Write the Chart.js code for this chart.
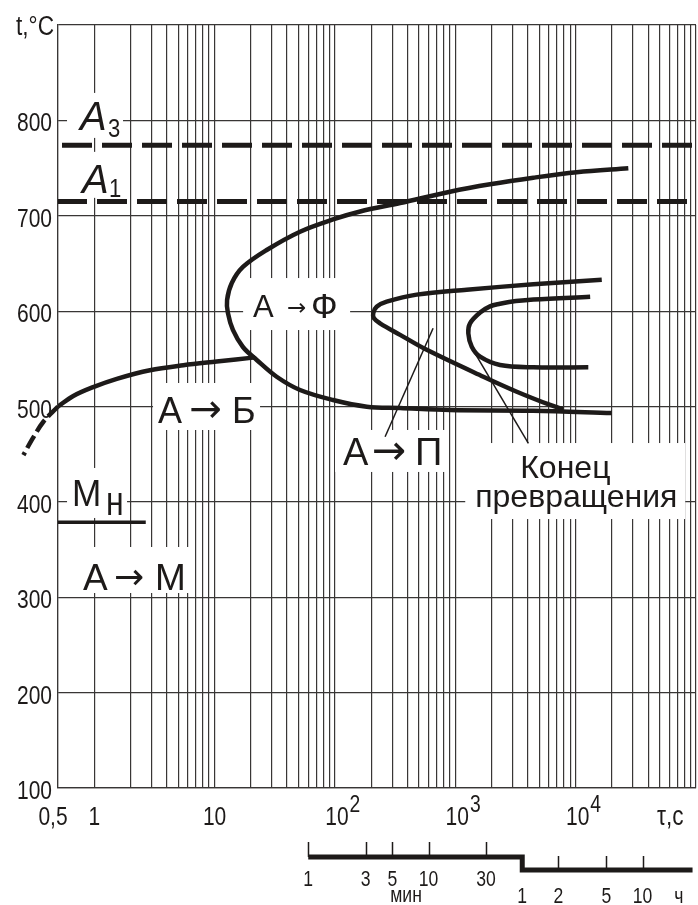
<!DOCTYPE html>
<html>
<head>
<meta charset="utf-8">
<script src="https://cdn.jsdelivr.net/npm/chart.js@4.4.1/dist/chart.umd.min.js"></script>
<style>
  html, body { margin: 0; padding: 0; background: #fff; }
  canvas { display: block; }
</style>
</head>
<body>
<canvas id="ttt" width="698" height="905"></canvas>
<script>
// curves are [time in s, temperature in °C]
const ferriteStart = [
  [27400, 749.7], [10200, 745.6], [4450, 739.9], [1944, 733], [904, 725.2], [348, 713.4],
  [162, 704.5], [96.4, 696.1], [51.3, 683.3], [27.1, 664.1], [17.2, 646.3], [13.9, 629.5],
  [12.7, 611.7], [12.9, 598.1], [14.2, 580.3], [17.2, 562.4], [22.4, 548.8], [32.8, 531.2],
  [51.3, 517.3], [96.4, 506.8], [184, 499.8], [348, 498.4], [904, 496.3], [4450, 495.6],
  [19950, 493.2]
]
const pearliteStart = [
  [16480, 633], [4450, 628.1], [1245, 622.5], [478, 617.3], [269, 609.9], [222, 604.6],
  [208, 597.7], [211, 592.5], [237, 587.2], [348, 575.1], [579, 559.4], [1711, 531.2],
  [3243, 515.5], [6140, 501.6], [7900, 497.1]
]
const pearliteEnd = [
  [13200, 615.1], [4450, 612.1], [2800, 609.6], [2354, 607.8], [1944, 605], [1607, 598.5],
  [1326, 587.2], [1283, 576.7], [1370, 562.7], [1607, 552.2], [2354, 543.5], [4450, 541.1],
  [12740, 541.1]
]
const bainiteStart = [
  [0.5, 500], [0.67, 511], [0.98, 520.3], [1.54, 529], [2.9, 538], [5.5, 543.3],
  [10.4, 547.2], [21.7, 551.5]
]
const bainiteGuess = [[0.5, 500], [0.378, 484], [0.303, 465], [0.258, 449]]
const msLine = [[0.5, 378.6], [2.68, 378.6]]
const a3Line = [[0.5, 774], [100000, 774]]
const a1Line = [[0.5, 715], [100000, 715]]
const pearliteLeader = [[261, 468.3], [654, 582]]
const endLeader = [[4050, 461.4], [1460, 555.8]]

const yTicks = [100, 200, 300, 400, 500, 600, 700, 800, 900]
const yTickText = ['100', '200', '300', '400', '500', '600', '700', '800', '']
const xTickValues = [0.5, 1, 10, 100, 1000, 10000]
const xTickText = ['0,5', '1', '10', '10', '10', '10']
const xTickPower = ['', '', '', '2', '3', '4']

// second time scale under the axis
const minuteMarks = [1, 3, 5, 10, 30]
const hourMarks = [1, 2, 5, 10]
const hourBarEnd = 26

const ink = '#1d1a19'
const gridInk = '#383635'
const sans = "'Liberation Sans', Arial, sans-serif"
const arrowFont = "'DejaVu Sans', sans-serif"

// vertical grid: 1..9 in every decade
const xGrid = [0.5]
for (let d = 1; d < 100000; d *= 10) {
  for (let k = 1; k <= 9; k++) xGrid.push(k * d)
}
xGrid.push(100000)

// region labels, anchored at [s, °C]; parts: text, dx, dy, font, x-squeeze
const notes = [
  { at: [0.762, 790], box: [-13, -37, 43, 8], parts: [
    ['A', 0, 0, 'italic 40px ' + sans, 1], ['3', 28, 7, '26px ' + sans, 0.85]] },
  { at: [0.792, 724], box: [-15, -41, 41, 5], parts: [
    ['A', 0, 0, 'italic 40px ' + sans, 1], ['1', 27, 4, '26px ' + sans, 0.85]] },
  { at: [0.654, 395.7], box: [-5, -38, 55, 12], parts: [
    ['М', 0, 0, '37px ' + sans, 0.95], ['н', 34, 9, '40px ' + sans, 0.8]] },
  { at: [0.807, 307.6], box: [-3, -43, 109, 3], parts: [
    ['А', 0, 0, '37px ' + sans, 1], ['→', 31, -1, '36px ' + arrowFont, 1], ['М', 72, 0, '37px ' + sans, 1]] },
  { at: [3.39, 482.7], box: [-5, -40, 102, 7], parts: [
    ['А', 0, 0, '36px ' + sans, 1], ['→', 31, -1, '39px ' + arrowFont, 1], ['Б', 74, 0, '36px ' + sans, 1]] },
  { at: [20.9, 593.8], box: [-10, -39, 97, 13], parts: [
    ['А', 0, 0, '31px ' + sans, 1], ['→', 34, -2, '23px ' + arrowFont, 1], ['Ф', 58, 1, '35px ' + sans, 1]] },
  { at: [116.8, 438.7], box: [-8, -35, 102, 7], parts: [
    ['А', 0, 0, '38px ' + sans, 1], ['→', 29, -1, '41px ' + arrowFont, 1], ['П', 72, 0, '38px ' + sans, 1]] },
  { at: [3464, 425], box: [-55, -35, 165, 41], parts: [
    ['Конец', 0, 0, '32px ' + sans, 1], ['превращения', -45, 29, '32px ' + sans, 1]] }
]

const toXY = arr => arr.map(p => ({ x: p[0], y: p[1] }))

function curve(data, extra) {
  return Object.assign({
    data: toXY(data),
    showLine: true,
    borderColor: ink,
    borderWidth: 4.5,
    pointRadius: 0,
    tension: 0.35,
    fill: false,
    borderJoinStyle: 'round'
  }, extra || {})
}

// Arial-narrow look: squeeze regular glyphs horizontally
function putText(ctx, s, x, y, font, sx, align) {
  ctx.save()
  ctx.font = font
  ctx.textAlign = align || 'left'
  ctx.translate(x, y)
  ctx.scale(sx, 1)
  ctx.fillText(s, 0, 0)
  ctx.restore()
}

const labelsPlugin = {
  id: 'labels',
  beforeDatasetsDraw(chart) {
    const ctx = chart.ctx, xs = chart.scales.x, ys = chart.scales.y
    ctx.save()
    ctx.fillStyle = '#fff'
    notes.forEach(n => {
      const ax = xs.getPixelForValue(n.at[0]), ay = ys.getPixelForValue(n.at[1])
      ctx.fillRect(ax + n.box[0], ay + n.box[1], n.box[2] - n.box[0], n.box[3] - n.box[1])
    })
    ctx.restore()
  },
  afterDatasetsDraw(chart) {
    const ctx = chart.ctx, xs = chart.scales.x, ys = chart.scales.y
    ctx.save()
    ctx.fillStyle = ink
    ctx.textBaseline = 'alphabetic'
    notes.forEach(n => {
      const ax = xs.getPixelForValue(n.at[0]), ay = ys.getPixelForValue(n.at[1])
      n.parts.forEach(p => putText(ctx, p[0], ax + p[1], ay + p[2], p[3], p[4]))
    })
    ctx.restore()
  },
  afterDraw(chart) {
    const ctx = chart.ctx, xs = chart.scales.x, ys = chart.scales.y
    const px = v => xs.getPixelForValue(v)
    const axisFont = '25px ' + sans
    const sq = 0.84
    ctx.save()
    ctx.fillStyle = ink
    ctx.strokeStyle = ink
    ctx.textBaseline = 'alphabetic'

    // temperature labels
    yTicks.forEach((v, i) => {
      if (yTickText[i]) putText(ctx, yTickText[i], 52, ys.getPixelForValue(v) + 11, axisFont, sq, 'right')
    })

    // axis titles
    putText(ctx, 't,°C', 16, 35, '27px ' + sans, sq)
    putText(ctx, 'τ,c', 657, 825, '27px ' + sans, sq)

    // decade labels on the time axis
    xTickValues.forEach((v, i) => {
      const x = px(v)
      if (xTickPower[i]) {
        ctx.font = axisFont
        const w = ctx.measureText(xTickText[i]).width * sq
        putText(ctx, xTickText[i], x + 2, 825, axisFont, sq, 'center')
        putText(ctx, xTickPower[i], x + 3 + w / 2, 812, '23px ' + sans, sq)
      } else {
        putText(ctx, xTickText[i], v === xs.min ? x - 5 : x, 825, axisFont, sq, 'center')
      }
    })

    // minutes / hours bar
    ctx.lineWidth = 5
    ctx.lineJoin = 'miter'
    ctx.beginPath()
    ctx.moveTo(px(60), 857)
    ctx.lineTo(px(3600), 857)
    ctx.lineTo(px(3600), 870)
    ctx.lineTo(px(hourBarEnd * 3600), 870)
    ctx.stroke()

    ctx.lineWidth = 1.5
    ctx.beginPath()
    minuteMarks.forEach(m => {
      const x = Math.round(px(m * 60)) + 0.5
      ctx.moveTo(x, 842)
      ctx.lineTo(x, 857)
    })
    hourMarks.forEach(h => {
      const x = Math.round(px(h * 3600)) + 0.5
      ctx.moveTo(x, 856)
      ctx.lineTo(x, 870)
    })
    ctx.stroke()

    const barFont = '22px ' + sans
    minuteMarks.forEach(m => putText(ctx, String(m), px(m * 60), 886, barFont, 0.8, 'center'))
    hourMarks.forEach(h => putText(ctx, String(h), px(h * 3600), 903, barFont, 0.8, 'center'))
    putText(ctx, 'мин', px(6.5 * 60), 902, barFont, 0.8, 'center')
    putText(ctx, 'ч', px(20 * 3600), 903, barFont, 0.8, 'center')
    ctx.restore()
  }
}

new Chart(document.getElementById('ttt'), {
  type: 'scatter',
  data: {
    datasets: [
      curve(ferriteStart),
      curve(pearliteStart),
      curve(pearliteEnd),
      curve(bainiteStart),
      curve(bainiteGuess, { borderDash: [14, 5], clip: false }),
      curve(msLine, { tension: 0, borderWidth: 3.5 }),
      curve(a3Line, { tension: 0, borderWidth: 5, borderDash: [30, 10], borderDashOffset: 36 }),
      curve(a1Line, { tension: 0, borderWidth: 5, borderDash: [30, 10], borderDashOffset: 1 }),
      curve(pearliteLeader, { tension: 0, borderWidth: 1.5 }),
      curve(endLeader, { tension: 0, borderWidth: 1.5 })
    ]
  },
  options: {
    responsive: false,
    animation: false,
    events: [],
    layout: { padding: { top: 25, right: 2, left: 0, bottom: 0 } },
    plugins: {
      legend: { display: false },
      tooltip: { enabled: false }
    },
    scales: {
      x: {
        type: 'logarithmic',
        min: 0.5,
        max: 100000,
        afterBuildTicks: s => { s.ticks = xGrid.map(v => ({ value: v })) },
        afterFit: s => { s.height = 117 },
        ticks: { display: false },
        grid: { color: gridInk, lineWidth: 1.2, drawTicks: false },
        border: { color: gridInk, width: 1.2 }
      },
      y: {
        min: 100,
        max: 900,
        afterBuildTicks: s => { s.ticks = yTicks.map(v => ({ value: v })) },
        afterFit: s => { s.width = 58 },
        ticks: { display: false },
        grid: { color: gridInk, lineWidth: 1.2, drawTicks: false },
        border: { color: gridInk, width: 1.2 }
      }
    }
  },
  plugins: [labelsPlugin]
})
</script>
</body>
</html>
